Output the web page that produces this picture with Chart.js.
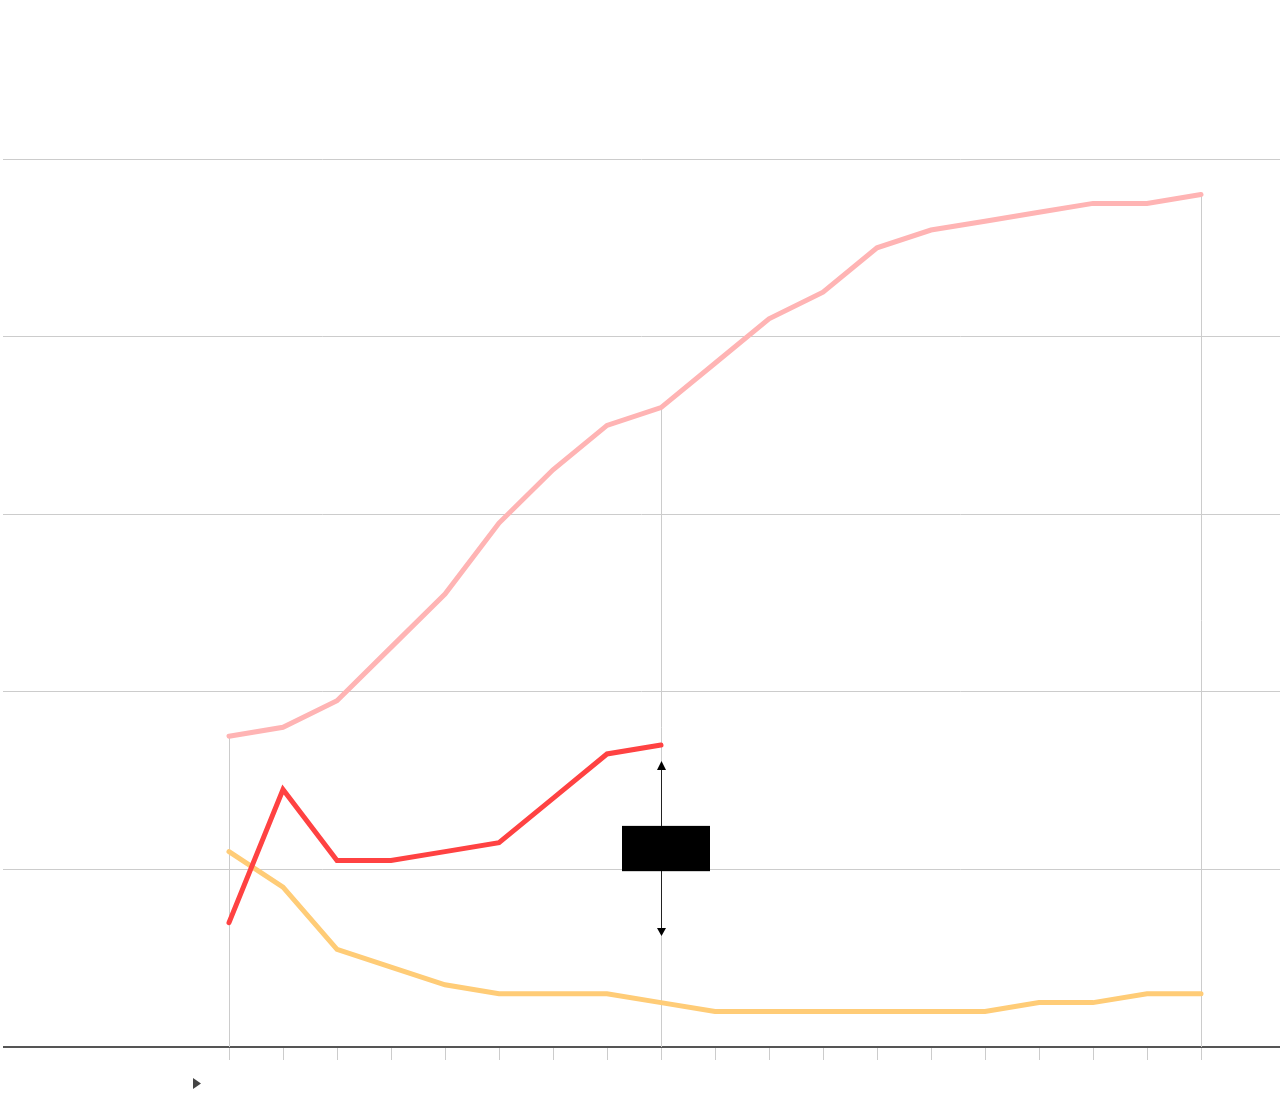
<!DOCTYPE html>
<html>
<head>
<meta charset="utf-8">
<script src="https://cdn.jsdelivr.net/npm/chart.js@4/dist/chart.umd.min.js"></script>
<style>
  html, body { margin: 0; padding: 0; background: #fff; }
  #wrap { width: 1280px; height: 1120px; }
</style>
</head>
<body>
<div id="wrap"><canvas id="graficLine" width="1280" height="1120"></canvas></div>
<script>
// categories (one per step along the x axis)
var steps = [0,1,2,3,4,5,6,7,8,9,10,11,12,13,14,15,16,17,18];

// series values
var pinkValues   = [17.5,18,19.5,22.5,25.5,29.5,32.5,35,36,38.5,41,42.5,45,46,46.5,47,47.5,47.5,48];
var redValues    = [7,14.5,10.5,10.5,11,11.5,14,16.5,17];
var yellowValues = [11,9,5.5,4.5,3.5,3,3,3,2.5,2,2,2,2,2,2,2.5,2.5,3,3];

// y ticks
var yTicks = [0,10,20,30,40,50];

// steps that get a drop line, and the annotation at step 8
var dropSteps = [0, 8, 18];
var markStep = 8;
var markRange = [6.25, 16.1];
var markBox = [9.9, 12.45];

function toPoints(vals){
  var out = [];
  for (var i = 0; i < vals.length; i++) out.push({x: steps[i], y: vals[i]});
  return out;
}

var dropLines = {
  id: 'dropLines',
  beforeDatasetsDraw: function(chart){
    var ctx = chart.ctx, xs = chart.scales.x, ys = chart.scales.y;
    ctx.save();
    ctx.strokeStyle = '#cccccc';
    ctx.lineWidth = 1;
    dropSteps.forEach(function(s){
      var px = Math.round(xs.getPixelForValue(s)) + 0.5;
      ctx.beginPath();
      ctx.moveTo(px, ys.getPixelForValue(pinkValues[s]));
      ctx.lineTo(px, ys.getPixelForValue(0));
      ctx.stroke();
    });
    ctx.restore();
  }
};

var marker = {
  id: 'marker',
  afterDatasetsDraw: function(chart){
    var ctx = chart.ctx, xs = chart.scales.x, ys = chart.scales.y;
    var px = Math.round(xs.getPixelForValue(markStep)) + 0.5;
    var top = ys.getPixelForValue(markRange[1]);
    var bot = ys.getPixelForValue(markRange[0]);
    ctx.save();
    ctx.strokeStyle = '#222';
    ctx.fillStyle = '#000';
    ctx.lineWidth = 1;
    ctx.beginPath();
    ctx.moveTo(px, top + 6);
    ctx.lineTo(px, bot - 6);
    ctx.stroke();
    // arrow heads
    ctx.beginPath();
    ctx.moveTo(px, top); ctx.lineTo(px - 4.5, top + 9); ctx.lineTo(px + 4.5, top + 9); ctx.closePath();
    ctx.fill();
    ctx.beginPath();
    ctx.moveTo(px, bot); ctx.lineTo(px - 4.5, bot - 8); ctx.lineTo(px + 4.5, bot - 8); ctx.closePath();
    ctx.fill();
    // box
    var by1 = ys.getPixelForValue(markBox[1]);
    var by0 = ys.getPixelForValue(markBox[0]);
    ctx.fillRect(px - 39.5, by1, 88, by0 - by1);
    // play marker under the axis
    var x0 = xs.getPixelForValue(steps[0]) - 36;
    var yb = ys.getPixelForValue(0) + 31;
    ctx.fillStyle = '#444';
    ctx.beginPath();
    ctx.moveTo(x0, yb); ctx.lineTo(x0 + 8, yb + 5.5); ctx.lineTo(x0, yb + 11); ctx.closePath();
    ctx.fill();
    ctx.restore();
  }
};

var cxt = new Chart(document.getElementById('graficLine'), {
  type: 'line',
  data: {
    datasets: [
      {
        label: 'red',
        data: toPoints(redValues),
        borderColor: '#ff4242',
        borderWidth: 5,
        borderCapStyle: 'round',
        pointRadius: 0,
        tension: 0,
        order: 0
      },
      {
        label: 'yellow',
        data: toPoints(yellowValues),
        borderColor: '#ffcc77',
        borderWidth: 5,
        borderCapStyle: 'round',
        pointRadius: 0,
        tension: 0,
        order: 1
      },
      {
        label: 'pink',
        data: toPoints(pinkValues),
        borderColor: '#ffb4b4',
        borderWidth: 5,
        borderCapStyle: 'round',
        pointRadius: 0,
        tension: 0,
        order: 2
      }
    ]
  },
  options: {
    responsive: false,
    animation: false,
    layout: { padding: { top: 159, left: 3, right: 0, bottom: 60 } },
    plugins: { legend: { display: false }, tooltip: { enabled: false } },
    scales: {
      x: {
        type: 'linear',
        min: -(226 / 54),
        max: 18 + 79 / 54,
        afterBuildTicks: function(scale){
          scale.ticks = steps.map(function(v){ return {value: v}; });
        },
        ticks: { display: false },
        grid: { drawOnChartArea: false, drawTicks: true, tickLength: 13, color: '#cccccc' },
        border: { display: false }
      },
      y: {
        min: 0,
        max: 50,
        afterBuildTicks: function(scale){
          scale.ticks = yTicks.map(function(v){ return {value: v}; });
        },
        ticks: { display: false },
        grid: {
          drawTicks: false,
          color: function(c){ return c.tick && c.tick.value === 0 ? '#555555' : '#cccccc'; },
          lineWidth: function(c){ return c.tick && c.tick.value === 0 ? 2 : 1; }
        },
        border: { display: false }
      }
    }
  },
  plugins: [dropLines, marker]
});
</script>
</body>
</html>
